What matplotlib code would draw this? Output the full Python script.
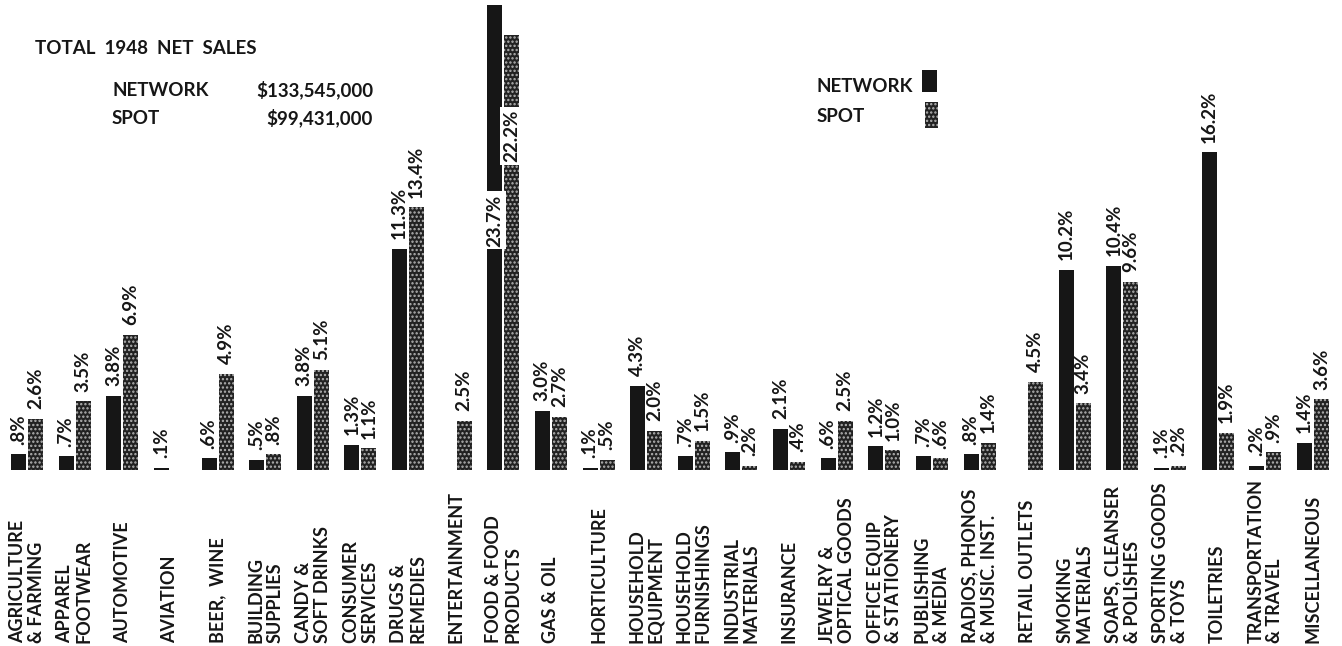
import numpy as np
import matplotlib
matplotlib.use("Agg")
import matplotlib.pyplot as plt
import matplotlib.transforms as mtransforms
from matplotlib.patches import Rectangle

# share of 1948 net sales (%) by product group; nan = no bar
categories = [
    "AGRICULTURE\n& FARMING", "APPAREL\nFOOTWEAR", "AUTOMOTIVE", "AVIATION",
    "BEER,  WINE", "BUILDING\nSUPPLIES", "CANDY &\nSOFT DRINKS", "CONSUMER\nSERVICES",
    "DRUGS &\nREMEDIES", "ENTERTAINMENT", "FOOD & FOOD\nPRODUCTS", "GAS & OIL",
    "HORTICULTURE", "HOUSEHOLD\nEQUIPMENT", "HOUSEHOLD\nFURNISHINGS", "INDUSTRIAL\nMATERIALS",
    "INSURANCE", "JEWELRY &\nOPTICAL GOODS", "OFFICE EQUIP\n& STATIONERY", "PUBLISHING\n& MEDIA",
    "RADIOS, PHONOS\n& MUSIC. INST.", "RETAIL OUTLETS", "SMOKING\nMATERIALS",
    "SOAPS, CLEANSER\n& POLISHES", "SPORTING GOODS\n& TOYS", "TOILETRIES",
    "TRANSPORTATION\n& TRAVEL", "MISCELLANEOUS",
]
network = [0.8, 0.7, 3.8, 0.1, 0.6, 0.5, 3.8, 1.3, 11.3, np.nan, 23.7, 3.0, 0.1, 4.3,
           0.7, 0.9, 2.1, 0.6, 1.2, 0.7, 0.8, np.nan, 10.2, 10.4, 0.1, 16.2, 0.2, 1.4]
spot = [2.6, 3.5, 6.9, np.nan, 4.9, 0.8, 5.1, 1.1, 13.4, 2.5, 22.2, 2.7, 0.5, 2.0,
        1.5, 0.2, 0.4, 2.5, 1.0, 0.6, 1.4, 4.5, 3.4, 9.6, 0.2, 1.9, 0.9, 3.6]
total_network = "$133,545,000"
total_spot = "$99,431,000"

FONT = "Lato"
INK = "#161616"
W, H = 1342, 646


def pct(v):
    s = f"{v:.1f}"
    if s.startswith("0"):
        s = s[1:]
    return s + "%"


fig = plt.figure(figsize=(W / 100, H / 100), dpi=100)
fig.patch.set_facecolor("white")
ax = fig.add_axes([0, (H - 470) / H, 1, 470 / H])
ax.set_axis_off()

n = len(categories)
x = np.arange(n)
unit = (1313 - 27) / (n - 1)
ax.set_xlim(-27 / unit, (n - 1) + (W - 1313) / unit)
ax.set_ylim(0, 470 / 19.6)

bw = 15 / unit
off = 8.5 / unit
plt.rcParams["hatch.linewidth"] = 1.1

net = np.array(network)
sp = np.array(spot)
ax.bar(x - off, np.nan_to_num(net), bw, color=INK, linewidth=0)
ax.bar(x + off, np.nan_to_num(sp), bw, facecolor="#222222", edgecolor="#b4b4b4",
       hatch="....", linewidth=0)

# labels that sit inside the tall food bars on a white break
inside = {("n", 10): 11.4, ("s", 10): 15.7}

for i in range(n):
    for key, vals, dx in (("n", net, -off), ("s", sp, off)):
        v = vals[i]
        if np.isnan(v):
            continue
        if (key, i) in inside:
            ax.text(x[i] + dx, inside[(key, i)], pct(v), rotation=90, ha="center",
                    va="bottom", fontsize=13.5, family=FONT, weight="bold", color=INK,
                    bbox=dict(fc="white", ec="none", pad=2))
        else:
            ax.annotate(pct(v), (x[i] + dx, v), xytext=(0, 7), textcoords="offset points",
                        rotation=90, ha="center", va="bottom", fontsize=13.5,
                        family=FONT, weight="bold", color=INK)

# category names under the bars
trans = mtransforms.blended_transform_factory(ax.transData, fig.transFigure)
for i, c in enumerate(categories):
    ax.text(x[i], 3 / H, c, transform=trans, rotation=90, ha="center", va="bottom",
            multialignment="left", linespacing=1.15, fontsize=13, family=FONT,
            weight="bold", color=INK)

# totals block
hdr = dict(fontsize=13.5, family=FONT, weight="bold", color=INK, va="center")
fig.text(35 / W, 1 - 48 / H, "TOTAL  1948  NET  SALES", **hdr)
fig.text(112 / W, 1 - 90 / H, "NETWORK", **hdr)
fig.text(373 / W, 1 - 90 / H, total_network, ha="right", **hdr)
fig.text(112 / W, 1 - 118 / H, "SPOT", **hdr)
fig.text(373 / W, 1 - 118 / H, total_spot, ha="right", **hdr)

# legend
fig.text(817 / W, 1 - 87 / H, "NETWORK", **hdr)
fig.text(817 / W, 1 - 117 / H, "SPOT", **hdr)
fig.add_artist(Rectangle((922 / W, 1 - 92 / H), 15 / W, 22 / H, transform=fig.transFigure,
                         facecolor=INK, linewidth=0))
fig.add_artist(Rectangle((925 / W, 1 - 128 / H), 13 / W, 26 / H, transform=fig.transFigure,
                         facecolor="#222222", edgecolor="#b4b4b4", hatch="....", linewidth=0))

fig.savefig("out.png", dpi=100, facecolor="white")
